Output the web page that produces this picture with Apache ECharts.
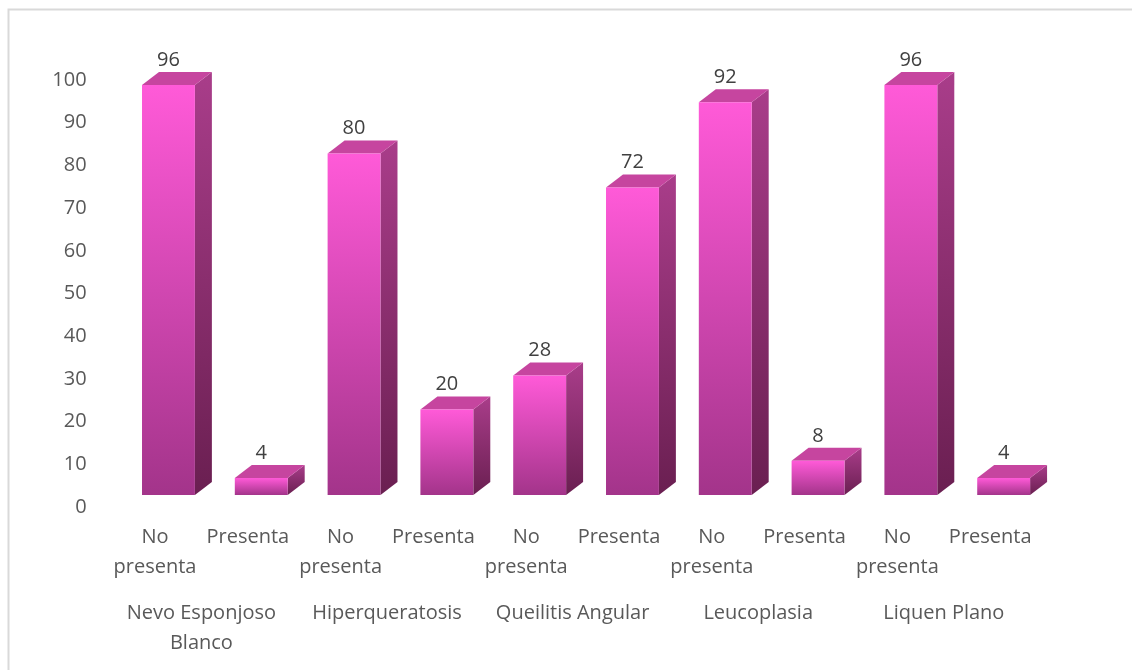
<!DOCTYPE html>
<html>
<head>
<meta charset="utf-8">
<title>Lesiones blancas</title>
<script src="https://cdn.jsdelivr.net/npm/echarts@6/dist/echarts.min.js"></script>
<style>
  html, body { margin: 0; padding: 0; background: #ffffff; }
  #chart { width: 1132px; height: 670px; }
</style>
</head>
<body>
<div id="chart"></div>
<script>
// Sub-categories (one bar each) and the lesion groups they belong to
const subCategories = [
  'No presenta', 'Presenta',
  'No presenta', 'Presenta',
  'No presenta', 'Presenta',
  'No presenta', 'Presenta',
  'No presenta', 'Presenta'
];
const groups = [
  'Nevo Esponjoso\nBlanco',
  'Hiperqueratosis',
  'Queilitis Angular',
  'Leucoplasia',
  'Liquen Plano'
];
const values = [96, 4, 80, 20, 28, 72, 92, 8, 96, 4];
const yTicks = { min: 0, max: 100, interval: 10 };

const FONT = '"Open Sans", "Noto Sans", sans-serif';
const TEXT_COLOR = '#595959';

// Pseudo-3D column: front face, top face and right side face
function renderBar(params, api) {
  const idx = api.value(0);
  const val = api.value(1);
  const base = api.coord([idx, 0]);
  const top = api.coord([idx, val]);
  const band = api.size([1, 0])[0];
  const lift = 12;
  const w = band * 0.57;
  const x0 = base[0] - band * 0.14;
  const dx = band * 0.183;
  const dy = 13;
  const yb = base[1] - lift;
  const yt = top[1] - lift;
  const h = yb - yt;
  return {
    type: 'group',
    children: [
      {
        type: 'polygon',
        shape: { points: [[x0 + w, yt], [x0 + w + dx, yt - dy], [x0 + w + dx, yb - dy], [x0 + w, yb]] },
        style: {
          fill: new echarts.graphic.LinearGradient(0, 0, 0, 1, [
            { offset: 0, color: '#a93d8a' },
            { offset: 1, color: '#6a1f51' }
          ])
        }
      },
      {
        type: 'polygon',
        shape: { points: [[x0, yt], [x0 + dx, yt - dy], [x0 + w + dx, yt - dy], [x0 + w, yt]] },
        style: { fill: '#c6459f' }
      },
      {
        type: 'rect',
        shape: { x: x0, y: yt, width: w, height: h },
        style: {
          fill: new echarts.graphic.LinearGradient(0, 0, 0, 1, [
            { offset: 0, color: '#ff5ad8' },
            { offset: 1, color: '#a3348a' }
          ])
        }
      },
      {
        type: 'text',
        x: x0 + w / 2,
        y: yt - dy - 2,
        style: {
          text: String(val),
          fill: '#404040',
          font: '20px ' + FONT,
          align: 'center',
          verticalAlign: 'bottom'
        }
      }
    ]
  };
}

const chart = echarts.init(document.getElementById('chart'), null, { renderer: 'canvas' });

chart.setOption({
  backgroundColor: '#ffffff',
  animation: false,
  graphic: [
    {
      type: 'rect',
      left: 6, top: 7,
      shape: { width: 1200, height: 700 },
      style: { fill: 'none', stroke: '#d9d9d9', lineWidth: 2 },
      silent: true
    }
  ],
  grid: { left: 108.6, right: 95.4, top: 80, bottom: 163, containLabel: false },
  xAxis: [
    {
      type: 'category',
      data: subCategories,
      axisLine: { show: false },
      axisTick: { show: false },
      axisLabel: {
        interval: 0,
        margin: 15,
        color: TEXT_COLOR,
        fontFamily: FONT,
        fontSize: 20,
        lineHeight: 30,
        formatter: function (v) { return v.replace(' ', '\n'); }
      }
    },
    {
      type: 'category',
      data: groups,
      position: 'bottom',
      offset: 76,
      axisLine: { show: false },
      axisTick: { show: false },
      axisLabel: {
        interval: 0,
        margin: 15,
        color: TEXT_COLOR,
        fontFamily: FONT,
        fontSize: 20,
        lineHeight: 30
      }
    }
  ],
  yAxis: {
    type: 'value',
    min: yTicks.min,
    max: yTicks.max,
    interval: yTicks.interval,
    axisLine: { show: false },
    axisTick: { show: false },
    splitLine: { show: false },
    axisLabel: {
      margin: 22,
      color: TEXT_COLOR,
      fontFamily: FONT,
      fontSize: 20
    }
  },
  series: [
    {
      type: 'custom',
      xAxisIndex: 0,
      renderItem: renderBar,
      clip: false,
      encode: { x: 0, y: 1 },
      data: values.map(function (v, i) { return [i, v]; })
    }
  ]
});
</script>
</body>
</html>
